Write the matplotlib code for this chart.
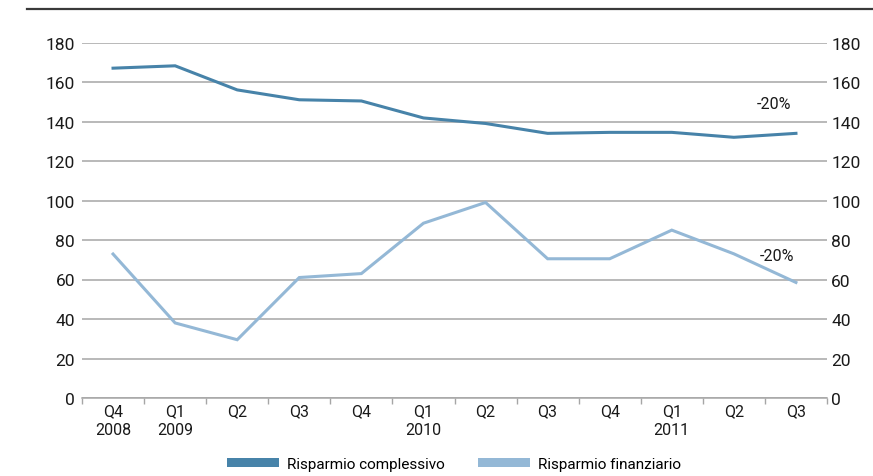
import matplotlib
matplotlib.use("Agg")
import matplotlib.pyplot as plt
from matplotlib.lines import Line2D
from matplotlib.patches import Patch
import numpy as np

plt.rcParams['font.family'] = ['Roboto', 'DejaVu Sans']

quarters = ["Q4\n2008", "Q1\n2009", "Q2", "Q3", "Q4", "Q1\n2010", "Q2", "Q3", "Q4",
            "Q1\n2011", "Q2", "Q3"]
risparmio_complessivo = [167, 168.2, 156, 151, 150.4, 141.8, 139, 134, 134.5, 134.5, 132, 134]
risparmio_finanziario = [72.9, 38, 29.5, 61, 63, 88.5, 99, 70.5, 70.5, 85, 73, 58.5]
yticks = [0, 20, 40, 60, 80, 100, 120, 140, 160, 180]

c_tot = "#4783A9"
c_fin = "#94B8D6"
grid_c = "#A6A6A6"
text_c = "#1a1a1a"

fig = plt.figure(figsize=(8.73, 4.77), dpi=100)
ax = fig.add_axes([82/873, 1-399/477, (827-82)/873, (399-43.5)/477])

x = np.arange(len(quarters)) + 0.5
ax.plot(x, risparmio_complessivo, color=c_tot, lw=2.2, solid_joinstyle='miter')
ax.plot(x, risparmio_finanziario, color=c_fin, lw=2.2, solid_joinstyle='miter')

ax.set_xlim(0, len(quarters))
ax.set_ylim(0, 180)
ax.set_yticks(yticks)
ax.yaxis.grid(True, color=grid_c, lw=1.1)
ax.set_axisbelow(True)
for s in ["top", "left", "right"]:
    ax.spines[s].set_visible(False)
ax.spines["bottom"].set_color(grid_c)
ax.spines["bottom"].set_linewidth(1.1)

ax.set_xticks(x)
ax.set_xticklabels(quarters, fontsize=11.5, color=text_c, linespacing=1.3)
ax.set_xticks(np.arange(len(quarters) + 1), minor=True)
ax.tick_params(axis='x', which='major', length=0, pad=4)
ax.tick_params(axis='x', which='minor', length=4, color=grid_c, width=1)
ax.tick_params(axis='y', length=0, pad=5, labelsize=12.5, labelcolor=text_c)

ax2 = ax.twinx()
ax2.set_ylim(0, 180)
ax2.set_yticks(yticks)
for s in ["top", "left", "right", "bottom"]:
    ax2.spines[s].set_visible(False)
ax2.tick_params(axis='y', length=0, pad=3, labelsize=12.5, labelcolor=text_c)

ax.text(10.87, 148.9, "-20%", fontsize=11.5, color=text_c, ha='left', va='center')
ax.text(10.92, 72.4, "-20%", fontsize=11.5, color=text_c, ha='left', va='center')

fig.add_artist(Line2D([27/873, 1], [1-10/477, 1-10/477], color="#3a3a3a", lw=1.6))

handles = [Patch(facecolor=c_tot, edgecolor='none'), Patch(facecolor=c_fin, edgecolor='none')]
fig.legend(handles, ["Risparmio complessivo", "Risparmio finanziario"],
           loc='center', bbox_to_anchor=(454/873, 1-465/477), ncol=2, frameon=False,
           fontsize=11, handlelength=3.4, handleheight=0.5, columnspacing=2.2,
           handletextpad=0.5)

fig.savefig("out.png", dpi=100)
